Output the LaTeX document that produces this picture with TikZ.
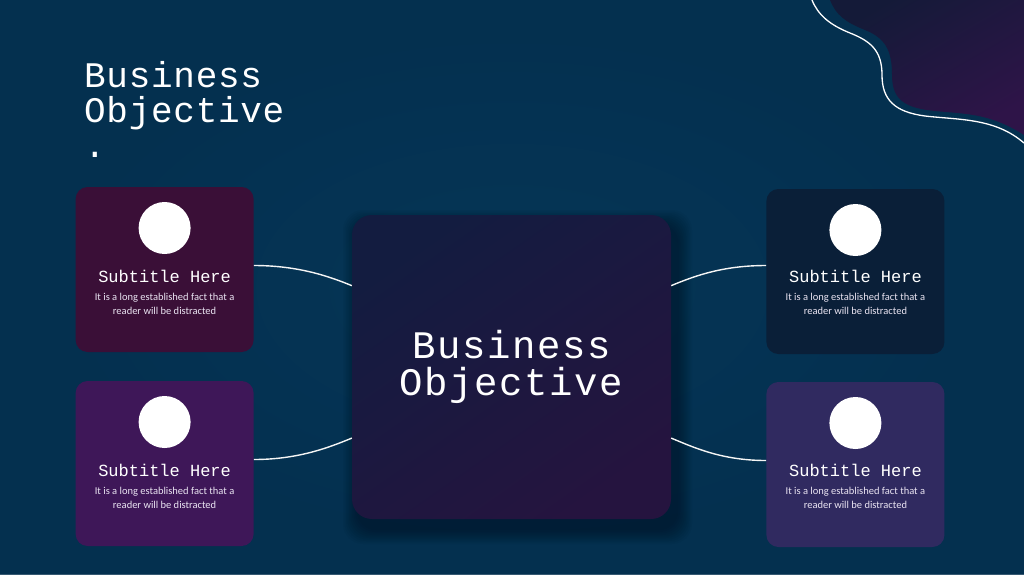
\documentclass[tikz,border=0pt]{standalone}
\usepackage{fontspec}
\usepackage{xcolor}
\usepackage{tikz}
\usetikzlibrary{positioning}
\newfontfamily\monofont{Liberation Mono}
\newfontfamily\hubfont[LetterSpace=4]{Liberation Mono}
\newfontfamily\titlefont[LetterSpace=2]{Liberation Mono}
\newfontfamily\bodyfont{Carlito}
\definecolor{bgnavy}{HTML}{04304F}
\definecolor{bglight}{HTML}{073759}
\definecolor{cardA}{HTML}{3A0F37}
\definecolor{cardB}{HTML}{3E1758}
\definecolor{cardC}{HTML}{0A1F38}
\definecolor{cardD}{HTML}{302A60}
\definecolor{ctrA}{HTML}{131C40}
\definecolor{ctrB}{HTML}{25143F}
\definecolor{waveA}{HTML}{141A38}
\definecolor{waveB}{HTML}{2E1448}
\definecolor{bodytxt}{HTML}{EAE4F2}

\begin{document}
\begin{tikzpicture}[
  x=1pt, y=-1pt,
  card/.style={rounded corners=12pt, minimum width=178pt, minimum height=165pt, inner sep=0pt},
  hub/.style={rounded corners=20pt, minimum width=319pt, minimum height=304pt, inner sep=0pt,
    top color=ctrA, bottom color=ctrB, shading angle=35, text=white, align=center,
    font=\hubfont\fontsize{39}{37}\selectfont},
  dot/.style={circle, fill=white, minimum size=52pt, inner sep=0pt},
  sub/.style={anchor=base, inner sep=0pt, text=white, font=\monofont\fontsize{17}{20}\selectfont},
  body/.style={anchor=base, inner sep=0pt, text=bodytxt, align=center, font=\bodyfont\fontsize{10.5}{14}\selectfont},
  conn/.style={draw=white!92!gray, line width=1.4pt},
]
  \useasboundingbox (0,0) rectangle (1024,574);
  \fill[bgnavy] (0,0) rectangle (1024,574);
  \shade[inner color=bglight, outer color=bgnavy, opacity=0.8] (0,0) rectangle (1024,574);

  % corner wave
  \shade[top color=waveA, bottom color=waveB, shading angle=30]
    (830,0) .. controls (836,15) and (845,22) .. (865,30)
    .. controls (885,38) and (892,50) .. (892,75)
    .. controls (892,100) and (905,108) .. (935,111)
    .. controls (965,114) and (990,113) .. (1024,135) -- (1024,0) -- cycle;
  \draw[white, line width=1.3pt]
    (812,0) .. controls (818,15) and (830,25) .. (850,33)
    .. controls (870,41) and (882,50) .. (882,75)
    .. controls (882,100) and (895,112) .. (925,116)
    .. controls (960,120) and (995,118) .. (1024,143);

  \node[anchor=base west, inner sep=0pt, text=white, align=left, font=\titlefont\fontsize{36}{35}\selectfont]
    (title) at (84,157) {Business\\Objective\\.};

  % soft shadow under the hub
  \foreach \r in {1,...,10}
    \fill[black, opacity=0.03, rounded corners=20pt] (352+6-\r*1.5,215+10-\r*1.5) rectangle (671+6+\r*1.5,519+10+\r*1.5);

  \node[hub] (hub) at (511.5,367) {Business\\Objective};

  \node[card, fill=cardA, left=98pt of hub, yshift=97.5pt] (ctl) {};
  \node[card, fill=cardB, left=98pt of hub, yshift=-96.5pt] (cbl) {};
  \node[card, fill=cardC, right=95pt of hub, yshift=95.5pt] (ctr) {};
  \node[card, fill=cardD, right=95pt of hub, yshift=-97.5pt] (cbr) {};

  % cards
  \node[dot, below=15pt of ctl.north] (dtl) {};
  \node[sub] (stl) at ([yshift=-96pt]ctl.north) {Subtitle Here};
  \node[body] (btl) at ([yshift=-128pt]ctl.north) {It is a long established fact that a\\reader will be distracted};

  \node[dot, below=15pt of cbl.north] (dbl) {};
  \node[sub] (sbl) at ([yshift=-96pt]cbl.north) {Subtitle Here};
  \node[body] (bbl) at ([yshift=-128pt]cbl.north) {It is a long established fact that a\\reader will be distracted};

  \node[dot, below=15pt of ctr.north] (dtr) {};
  \node[sub] (str) at ([yshift=-94pt]ctr.north) {Subtitle Here};
  \node[body] (btr) at ([yshift=-126pt]ctr.north) {It is a long established fact that a\\reader will be distracted};

  \node[dot, below=15pt of cbr.north] (dbr) {};
  \node[sub] (sbr) at ([yshift=-95pt]cbr.north) {Subtitle Here};
  \node[body] (bbr) at ([yshift=-127pt]cbr.north) {It is a long established fact that a\\reader will be distracted};

  % connectors
  \draw[conn] ([yshift=4pt]ctl.east) .. controls +(45,0) and +(-22,-9) .. (hub.153);
  \draw[conn] ([yshift=4pt]cbl.east) .. controls +(45,0) and +(-22,9) .. (hub.204);
  \draw[conn] (hub.27) .. controls +(22,-9) and +(-45,0) .. ([yshift=6pt]ctr.west);
  \draw[conn] (hub.336) .. controls +(22,9) and +(-45,0) .. ([yshift=4pt]cbr.west);
\end{tikzpicture}
\end{document}
